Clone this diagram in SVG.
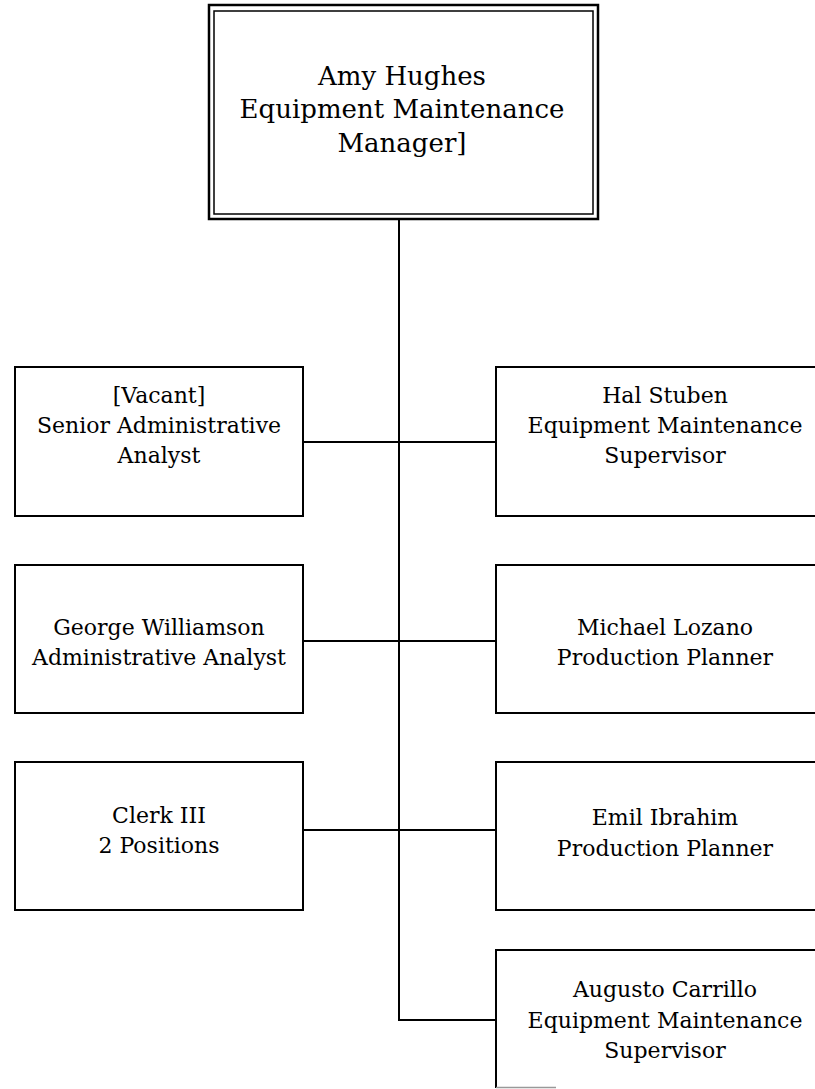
<svg xmlns="http://www.w3.org/2000/svg" width="815" height="1089" viewBox="0 0 815 1089">
<style>
.box{fill:#fff;stroke:#000;stroke-width:2}
.t{font-family:"DejaVu Serif","Liberation Serif",serif;font-size:22px;fill:#000;text-anchor:middle}
.big{font-size:26px}
.c{fill:none;stroke:#000;stroke-width:2}
</style>
<rect width="815" height="1089" fill="#fff"/>
<g id="connectors">
<path class="c" d="M399 219V1020H496"/>
<path class="c" d="M303 442H496"/>
<path class="c" d="M303 641H496"/>
<path class="c" d="M303 830H496"/>
</g>
<g id="amy">
<rect x="209" y="5" width="389" height="214" fill="#fff" stroke="#000" stroke-width="2.5"/>
<rect x="214" y="11" width="379" height="203" fill="none" stroke="#000" stroke-width="1.5"/>
<text class="t big" x="402" y="85">Amy Hughes</text>
<text class="t big" x="402" y="118">Equipment Maintenance</text>
<text class="t big" x="402" y="152">Manager]</text>
</g>
<g id="vacant">
<rect class="box" x="15" y="367" width="288" height="149"/>
<text class="t" x="159" y="403">[Vacant]</text>
<text class="t" x="159" y="433">Senior Administrative</text>
<text class="t" x="159" y="463">Analyst</text>
</g>
<g id="hal">
<rect class="box" x="496" y="367" width="340" height="149"/>
<text class="t" x="665" y="403">Hal Stuben</text>
<text class="t" x="665" y="433">Equipment Maintenance</text>
<text class="t" x="665" y="463">Supervisor</text>
</g>
<g id="george">
<rect class="box" x="15" y="565" width="288" height="148"/>
<text class="t" x="159" y="635">George Williamson</text>
<text class="t" x="159" y="665">Administrative Analyst</text>
</g>
<g id="michael">
<rect class="box" x="496" y="565" width="340" height="148"/>
<text class="t" x="665" y="635">Michael Lozano</text>
<text class="t" x="665" y="665">Production Planner</text>
</g>
<g id="clerk">
<rect class="box" x="15" y="762" width="288" height="148"/>
<text class="t" x="159" y="823">Clerk III</text>
<text class="t" x="159" y="853">2 Positions</text>
</g>
<g id="emil">
<rect class="box" x="496" y="762" width="340" height="148"/>
<text class="t" x="665" y="825">Emil Ibrahim</text>
<text class="t" x="665" y="856">Production Planner</text>
</g>
<g id="augusto">
<path class="c" d="M496 1088V950H830"/>
<path d="M496 1087.5H556" stroke="#999" stroke-width="1.5" fill="none"/>
<text class="t" x="665" y="997">Augusto Carrillo</text>
<text class="t" x="665" y="1028">Equipment Maintenance</text>
<text class="t" x="665" y="1058">Supervisor</text>
</g>
</svg>
